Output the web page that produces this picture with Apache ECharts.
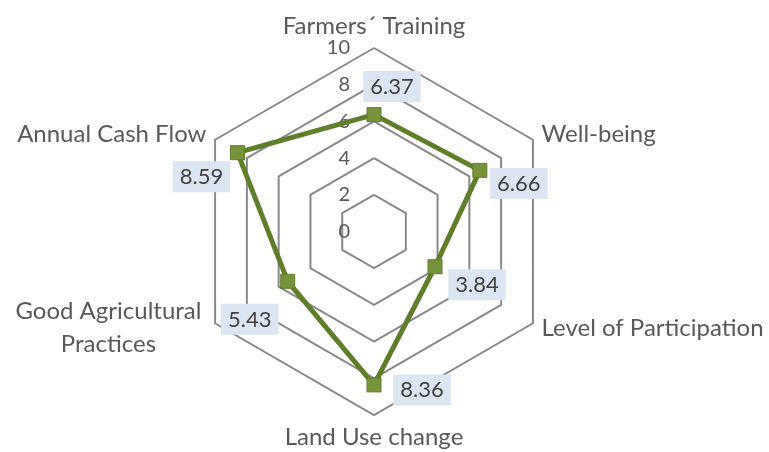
<!DOCTYPE html>
<html>
<head>
<meta charset="utf-8">
<script src="https://cdn.jsdelivr.net/npm/echarts@6/dist/echarts.min.js"></script>
<style>
  html, body { margin: 0; padding: 0; background: #fff; }
  #chart { width: 769px; height: 452px; }
</style>
</head>
<body>
<div id="chart"></div>
<script>
const indicators = ['Farmers´ Training', 'Well-being', 'Level of Participation', 'Land Use change', 'Good Agricultural\nPractices', 'Annual Cash Flow'];
const values = [6.37, 6.66, 3.84, 8.36, 5.43, 8.59];
const maxValue = 10;

// where each value box sits relative to its marker
const labelOffsets = [[18, -28], [39, 13], [42, 18], [48, 5], [-38, 38], [-36, 24]];

// echarts lays indicators out counter-clockwise, the chart goes clockwise
const order = [0, 5, 4, 3, 2, 1];
const ordNames = order.map((k) => indicators[k]);
const ordValues = order.map((k) => values[k]);

const myChart = echarts.init(document.getElementById('chart'));

const labelSeries = values.map((val, i) => ({
  type: 'radar',
  silent: true,
  data: [{ value: ordValues }],
  symbol: 'rect',
  symbolSize: 1,
  itemStyle: { color: 'transparent' },
  lineStyle: { opacity: 0 },
  label: {
    show: true,
    position: 'inside',
    offset: labelOffsets[i],
    formatter: (p) => (p.value === val ? '{v|' + val.toFixed(2) + '}' : ''),
    rich: {
      v: {
        backgroundColor: '#dce6f2',
        color: '#404040',
        fontFamily: 'Lato',
        fontSize: 22,
        lineHeight: 24,
        padding: [5, 7, 4, 7]
      }
    }
  }
}));

const option = {
  animation: false,
  radar: {
    center: [374, 231.5],
    radius: 183.5,
    startAngle: 90,
    splitNumber: 5,
    shape: 'polygon',
    axisName: {
      color: '#595959',
      fontFamily: 'Lato',
      fontSize: 24,
      formatter: (name) => name.indexOf('\n') >= 0
        ? name.split('\n').map((s) => '{c|' + s + '}').join('\n')
        : name,
      rich: {
        c: { width: 196, align: 'center', color: '#595959', fontFamily: 'Lato', fontSize: 24, lineHeight: 33 }
      }
    },
    nameGap: 10,
    axisLine: { show: false },
    axisTick: { show: false },
    axisLabel: { show: false },
    splitArea: { show: false },
    splitLine: { lineStyle: { color: '#898989', width: 2 } },
    indicator: ordNames.map((name, i) => ({
      name: name,
      min: 0,
      max: maxValue,
      axisLabel: i === 0
        ? { show: true, color: '#595959', fontFamily: 'Lato', fontSize: 20, margin: 24 }
        : { show: false }
    }))
  },
  series: [
    {
      type: 'radar',
      data: [{ value: ordValues }],
      symbol: 'rect',
      symbolSize: 14,
      lineStyle: { color: '#5e7e2a', width: 5 },
      itemStyle: { color: '#77933c', borderColor: '#5e7e2a', borderWidth: 1 },
      label: { show: false }
    }
  ].concat(labelSeries)
};

myChart.setOption(option);
window.addEventListener('resize', () => {
  myChart.resize();
});
</script>
</body>
</html>
